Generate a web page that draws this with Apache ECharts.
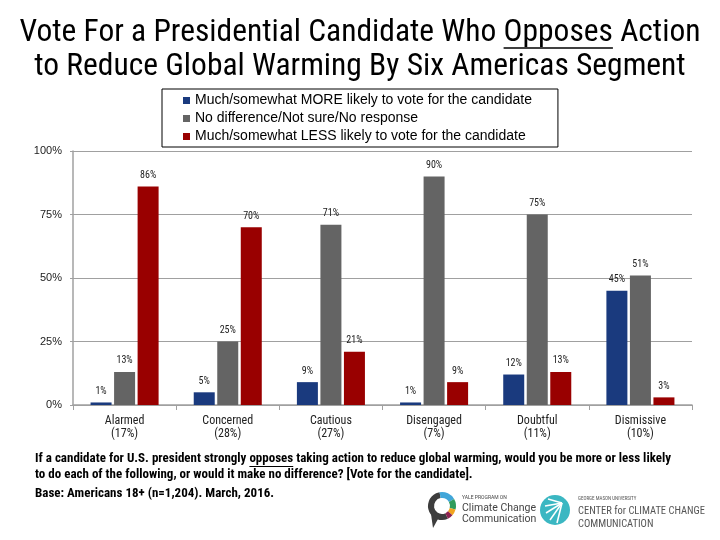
<!DOCTYPE html>
<html>
<head>
<meta charset="utf-8">
<script src="https://cdn.jsdelivr.net/npm/echarts@6/dist/echarts.min.js"></script>
<style>html,body{margin:0;padding:0;background:#fff}#c{width:720px;height:540px}</style>
</head>
<body>
<div id="c"></div>
<script>
const categories = ['Alarmed', 'Concerned', 'Cautious', 'Disengaged', 'Doubtful', 'Dismissive'];
const segmentShares = ['17%', '28%', '27%', '7%', '11%', '10%'];
const seriesNames = [
  'Much/somewhat MORE likely to vote for the candidate',
  'No difference/Not sure/No response',
  'Much/somewhat LESS likely to vote for the candidate'
];
const moreLikely = [1, 5, 9, 1, 12, 45];
const noDifference = [13, 25, 71, 90, 75, 51];
const lessLikely = [86, 70, 21, 9, 13, 3];
const seriesColors = ['#1a3a7e', '#646464', '#990000'];

const titleLine1Pre = 'Vote For a Presidential Candidate Who ';
const titleLine1Word = 'Opposes';
const titleLine1Post = ' Action';
const titleLine2 = 'to Reduce Global Warming By Six Americas Segment';
const footPre = 'If a candidate for U.S. president strongly ';
const footWord = 'opposes';
const footPost = ' taking action to reduce global warming, would you be more or less likely';
const footLine2 = 'to do each of the following, or would it make no difference? [Vote for the candidate].';
const footLine3 = 'Base: Americans 18+ (n=1,204). March, 2016.';

const condensed = '"Liberation Sans Narrow", "Roboto Condensed", "DejaVu Sans Condensed", Roboto, sans-serif';
const titleFont = '31.5px ' + condensed;
const footFont = 'bold 13px ' + condensed;

const mctx = document.createElement('canvas').getContext('2d');
function tw(font, s) { mctx.font = font; return mctx.measureText(s).width; }

const t1Full = titleLine1Pre + titleLine1Word + titleLine1Post;
const t1W = tw(titleFont, t1Full);
const t1Start = 360 - t1W / 2;
const uX1 = t1Start + tw(titleFont, titleLine1Pre);
const uX2 = uX1 + tw(titleFont, titleLine1Word);

const fX = 35;
const fuX1 = fX + tw(footFont, footPre);
const fuX2 = fuX1 + tw(footFont, footWord);

const chart = echarts.init(document.getElementById('c'), null, {renderer: 'canvas'});

const barData = [moreLikely, noDifference, lessLikely];

function ring(cx, cy, r, r0, a0, a1, color) {
  return {type: 'sector', shape: {cx, cy, r, r0, startAngle: a0 * Math.PI / 180, endAngle: a1 * Math.PI / 180}, style: {fill: color}, silent: true};
}

const graphics = [
  {type: 'text', x: 360, y: 33, style: {text: t1Full, font: titleFont, fill: '#000', textAlign: 'center', textVerticalAlign: 'middle'}},
  {type: 'line', shape: {x1: uX1, y1: 48, x2: uX2, y2: 48}, style: {stroke: '#000', lineWidth: 1.5}},
  {type: 'text', x: 360, y: 67, style: {text: titleLine2, font: titleFont, fill: '#000', textAlign: 'center', textVerticalAlign: 'middle'}},
  {type: 'text', x: fX, y: 459, style: {text: footPre + footWord + footPost, font: footFont, fill: '#000', textAlign: 'left', textVerticalAlign: 'middle'}},
  {type: 'line', shape: {x1: fuX1, y1: 466.5, x2: fuX2, y2: 466.5}, style: {stroke: '#000', lineWidth: 1}},
  {type: 'text', x: fX, y: 475, style: {text: footLine2, font: footFont, fill: '#000', textAlign: 'left', textVerticalAlign: 'middle'}},
  {type: 'text', x: fX, y: 494, style: {text: footLine3, font: footFont, fill: '#000', textAlign: 'left', textVerticalAlign: 'middle'}},
  // Yale logo
  ring(442, 506, 14, 8, 65, 260, '#3d3d3d'),
  ring(442, 506, 14, 8, -100, -30, '#41a6d9'),
  ring(442, 506, 14, 8, -30, 15, '#2f9c5b'),
  ring(442, 506, 14, 8, 15, 42, '#f2a41f'),
  ring(442, 506, 14, 8, 42, 65, '#8c2350'),
  {type: 'polygon', shape: {points: [[431, 514], [438, 519], [433, 528]]}, style: {fill: '#3d3d3d'}},
  {type: 'text', x: 462, y: 498, style: {text: 'YALE PROGRAM ON', font: '5px Roboto, sans-serif', fill: '#444', textVerticalAlign: 'middle'}},
  {type: 'text', x: 462, y: 508, style: {text: 'Climate Change', font: '10.5px Roboto, sans-serif', fill: '#444', textVerticalAlign: 'middle'}},
  {type: 'text', x: 462, y: 519, style: {text: 'Communication', font: '10.5px Roboto, sans-serif', fill: '#444', textVerticalAlign: 'middle'}},
  // GMU logo
  {type: 'circle', shape: {cx: 555, cy: 510, r: 15}, style: {fill: '#3bb7c2'}},
  {type: 'line', shape: {x1: 562, y1: 503, x2: 545, y2: 506}, style: {stroke: '#fff', lineWidth: 1.5}},
  {type: 'line', shape: {x1: 562, y1: 503, x2: 546, y2: 513}, style: {stroke: '#fff', lineWidth: 1.5}},
  {type: 'line', shape: {x1: 562, y1: 503, x2: 550, y2: 520}, style: {stroke: '#fff', lineWidth: 1.5}},
  {type: 'line', shape: {x1: 562, y1: 503, x2: 557, y2: 523}, style: {stroke: '#fff', lineWidth: 1.5}},
  {type: 'line', shape: {x1: 562, y1: 503, x2: 548, y2: 499}, style: {stroke: '#fff', lineWidth: 1.5}},
  {type: 'text', x: 578, y: 499, style: {text: 'GEORGE MASON UNIVERSITY', font: '5px ' + condensed, fill: '#555', textVerticalAlign: 'middle'}},
  {type: 'text', x: 578, y: 511, style: {text: 'CENTER for CLIMATE CHANGE', font: '10.5px ' + condensed, fill: '#555', textVerticalAlign: 'middle'}},
  {type: 'text', x: 578, y: 524, style: {text: 'COMMUNICATION', font: '10.5px ' + condensed, fill: '#555', textVerticalAlign: 'middle'}}
];

const option = {
  animation: false,
  backgroundColor: '#fff',
  legend: {
    orient: 'vertical', left: 162, top: 89,
    padding: [4, 26, 3, 21],
    borderColor: '#000', borderWidth: 1,
    itemWidth: 7, itemHeight: 7, itemGap: 3, icon: 'rect',
    textStyle: {fontSize: 14, fontFamily: '"Liberation Sans", Arial, sans-serif', color: '#000', lineHeight: 15},
    data: seriesNames
  },
  grid: {left: 73, right: 28, top: 151, bottom: 135, containLabel: false},
  xAxis: {
    type: 'category', data: categories,
    axisLine: {lineStyle: {color: '#a0a0a0', width: 1.5}},
    axisTick: {show: true, length: 5, lineStyle: {color: '#a0a0a0'}},
    axisLabel: {
      margin: 9, fontSize: 12, lineHeight: 13.5, color: '#222', fontFamily: condensed,
      formatter: (v, i) => v + '\n(' + segmentShares[i] + ')'
    }
  },
  yAxis: {
    type: 'value', min: 0, max: 100, interval: 25,
    axisLine: {show: true, lineStyle: {color: '#a0a0a0', width: 1.5}},
    axisTick: {show: true, length: 3, lineStyle: {color: '#a0a0a0'}},
    splitLine: {lineStyle: {color: '#a0a0a0', width: 1.2}},
    axisLabel: {margin: 11, fontSize: 11, color: '#222', fontFamily: '"Liberation Sans", Arial, sans-serif', formatter: '{value}%'}
  },
  series: seriesNames.map((n, k) => ({
    name: n, type: 'bar', data: barData[k],
    barWidth: 21, barGap: '12%',
    itemStyle: {color: seriesColors[k]},
    label: {show: true, position: 'top', distance: 6, formatter: '{c}%', fontSize: 10, color: '#222', fontFamily: condensed}
  })),
  graphic: graphics
};
chart.setOption(option);
</script>
</body>
</html>
